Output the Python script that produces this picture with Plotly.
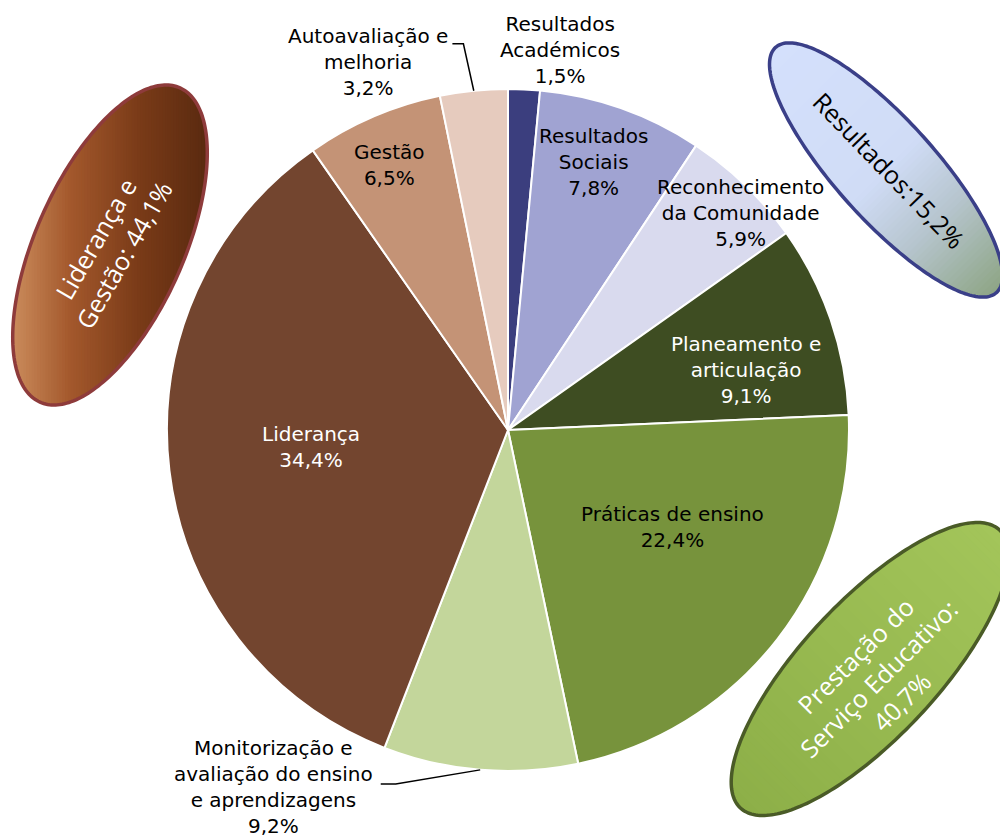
import numpy as np
import plotly.graph_objects as go

# ---------------- data ----------------
categories = ["Resultados<br>Académicos", "Resultados<br>Sociais", "Reconhecimento<br>da Comunidade",
              "Planeamento e<br>articulação", "Práticas de ensino",
              "Monitorização e<br>avaliação do ensino<br>e aprendizagens",
              "Liderança", "Gestão", "Autoavaliação e<br>melhoria"]
values = [1.5, 7.8, 5.9, 9.1, 22.4, 9.2, 34.4, 6.5, 3.2]
colors = ["#3B3E7E", "#A0A3D2", "#D9DAEE", "#3E4D22", "#77933C", "#C3D69B",
          "#73452F", "#C49376", "#E6CBBE"]
text_colors = ["black", "black", "black", "white", "black", "black", "white", "black", "black"]

group_names = ["Liderança e<br>Gestão: ", "Resultados:", "Prestação do<br>Serviço Educativo:<br>"]
group_members = [[6, 7, 8], [0, 1, 2], [3, 4, 5]]

# label placement (radius factor, angular offset in degrees)
label_rf = [1.125, 0.825, 0.934, 0.720, 0.561, 1.252, 0.580, 0.851, 1.155]
label_dang = [5.1, -1.8, 2.9, 4.8, -7.4, 28.6, 1.9, -0.8, -15.0]

W, H = 1000, 839
CX, CY, R = 508, 430, 341


def fmt(v):
    return f"{v:.1f}".replace(".", ",") + "%"


def px2paper(x, y):
    return x / W, 1 - y / H


fig = go.Figure()
fig.add_trace(go.Pie(
    labels=[c.replace("<br>", " ") for c in categories], values=values, sort=False,
    direction="clockwise", rotation=0,
    marker=dict(colors=colors, line=dict(color="white", width=2)),
    textinfo="none", hoverinfo="label+percent", showlegend=False,
    domain=dict(x=[(CX - R) / W, (CX + R) / W], y=[1 - (CY + R) / H, 1 - (CY - R) / H]),
))

total = sum(values)
cum = np.cumsum([0] + values)
mids = [(cum[i] + values[i] / 2) / total * 360 for i in range(len(values))]


def polar(angle_deg, r):
    t = np.radians(angle_deg)
    return CX + r * np.sin(t), CY - r * np.cos(t)


annotations = []
label_pos = []
for i, cat in enumerate(categories):
    x, y = polar(mids[i] + label_dang[i], label_rf[i] * R)
    label_pos.append((x, y))
    xp, yp = px2paper(x, y)
    annotations.append(dict(
        x=xp, y=yp, xref="paper", yref="paper", showarrow=False,
        text=f"{cat}<br>{fmt(values[i])}", xanchor="center", yanchor="middle",
        font=dict(family="DejaVu Sans", size=20, color=text_colors[i]), align="center"))

shapes = []


def path_of(pts):
    s = ""
    for k, (x, y) in enumerate(pts):
        xp, yp = px2paper(x, y)
        s += ("M" if k == 0 else "L") + f"{xp:.5f},{yp:.5f} "
    return s


# leader lines: (slice index, start offset from label, elbow offset from label)
leaders = [(8, (84, -18), (95, -18)), (5, (107, -3), (122, -3))]
for idx, s_off, e_off in leaders:
    lx, ly = label_pos[idx]
    end = polar(mids[idx], R)
    pts = [(lx + s_off[0], ly + s_off[1]), (lx + e_off[0], ly + e_off[1]), end]
    shapes.append(dict(type="path", xref="paper", yref="paper", path=path_of(pts),
                       line=dict(color="black", width=1.5)))


# ---------------- ellipses ----------------
def ellipse_pts(cx, cy, a, b, ang, n=240):
    phi = np.linspace(0, 2 * np.pi, n, endpoint=False)
    th = np.radians(ang)
    x = cx + a * np.cos(phi) * np.cos(th) - b * np.sin(phi) * np.sin(th)
    y = cy + a * np.cos(phi) * np.sin(th) + b * np.sin(phi) * np.cos(th)
    return list(zip(x, y))


def clip(poly, d, s, keep_greater):
    out = []
    n = len(poly)
    for k in range(n):
        p, q = poly[k], poly[(k + 1) % n]
        sp = p[0] * d[0] + p[1] * d[1] - s
        sq = q[0] * d[0] + q[1] * d[1] - s
        if not keep_greater:
            sp, sq = -sp, -sq
        if sp >= 0:
            out.append(p)
        if (sp >= 0) != (sq >= 0):
            t = sp / (sp - sq)
            out.append((p[0] + t * (q[0] - p[0]), p[1] + t * (q[1] - p[1])))
    return out


def hex2rgb(h):
    h = h.lstrip("#")
    return [int(h[i:i + 2], 16) for i in (0, 2, 4)]


def grad_color(stops, t):
    for k in range(len(stops) - 1):
        t0, c0 = stops[k]
        t1, c1 = stops[k + 1]
        if t <= t1 or k == len(stops) - 2:
            u = min(max((t - t0) / (t1 - t0), 0), 1)
            a, b = hex2rgb(c0), hex2rgb(c1)
            return "rgb(" + ",".join(str(int(round(a[j] + u * (b[j] - a[j])))) for j in range(3)) + ")"


ellipses = [
    dict(c=(110, 245), a=172, b=74, ang=-66, grad_dir=0,
         stops=[(0, "#CB8C5C"), (0.3, "#A3582C"), (0.65, "#7A3B18"), (1, "#5A2A10")],
         border="#8E3B3B", tangle=-60, tc="white", tpos=(109, 247)),
    dict(c=(886, 170), a=165, b=50, ang=48, grad_dir=45,
         stops=[(0, "#D4E0FC"), (0.5, "#D0DCF6"), (0.72, "#B6C5CE"), (1, "#8EA585")],
         border="#3A3F88", tangle=46, tc="black", tpos=(889, 170)),
    dict(c=(870, 669), a=190, b=68, ang=-47, grad_dir=-45,
         stops=[(0, "#8DAF48"), (1, "#A3C55A")],
         border="#4A5B27", tangle=-45, tc="white", tpos=(878, 678)),
]

for gi, e in enumerate(ellipses):
    pts = ellipse_pts(e["c"][0], e["c"][1], e["a"], e["b"], e["ang"])
    d = (np.cos(np.radians(e["grad_dir"])), np.sin(np.radians(e["grad_dir"])))
    svals = [p[0] * d[0] + p[1] * d[1] for p in pts]
    smin, smax = min(svals), max(svals)
    nstrip = 70
    step = (smax - smin) / nstrip
    for k in range(nstrip):
        s0 = smin + k * step - 0.5
        s1 = smin + (k + 1) * step + 1.0
        poly = clip(pts, d, s0, True)
        poly = clip(poly, d, s1, False)
        if len(poly) < 3:
            continue
        col = grad_color(e["stops"], (k + 0.5) / nstrip)
        shapes.append(dict(type="path", xref="paper", yref="paper", path=path_of(poly) + "Z",
                           fillcolor=col, line=dict(width=0), layer="above"))
    shapes.append(dict(type="path", xref="paper", yref="paper", path=path_of(pts) + "Z",
                       fillcolor="rgba(0,0,0,0)", line=dict(color=e["border"], width=3.5),
                       layer="above"))
    gtotal = sum(values[i] for i in group_members[gi])
    xp, yp = px2paper(*e["tpos"])
    annotations.append(dict(
        x=xp, y=yp, xref="paper", yref="paper", showarrow=False,
        text=group_names[gi] + fmt(gtotal), textangle=e["tangle"],
        xanchor="center", yanchor="middle", align="center",
        font=dict(family="Open Sans", size=25, color=e["tc"])))

fig.update_layout(
    width=W, height=H, margin=dict(l=0, r=0, t=0, b=0),
    paper_bgcolor="white", plot_bgcolor="white",
    shapes=shapes, annotations=annotations, showlegend=False,
)

fig.write_html("out.html", config={"displayModeBar": False},
               post_script="document.body.style.margin='0';")
